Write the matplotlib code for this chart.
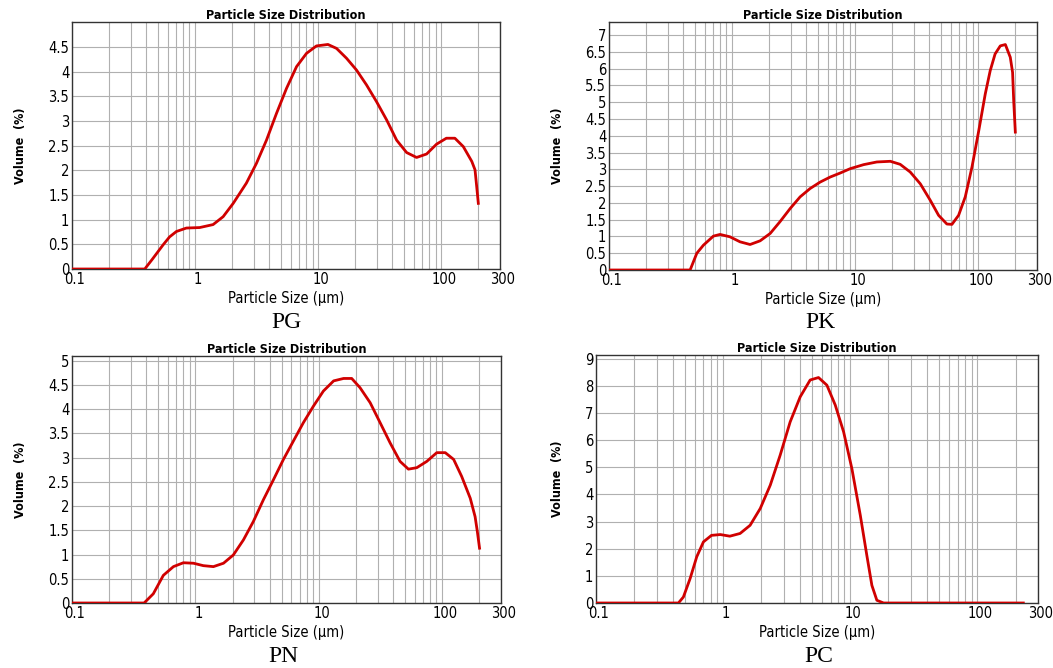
import matplotlib
matplotlib.use("Agg")
import matplotlib.pyplot as plt
import matplotlib.transforms as mtransforms
from matplotlib.ticker import FixedLocator, LogLocator, NullFormatter
import numpy as np

# particle size (um) and volume (%)
pg_size = [0.1, 0.39, 0.45, 0.55, 0.62, 0.705, 0.85, 1.09, 1.4, 1.69, 2.04, 2.61, 3.15,
           3.8, 4.58, 5.53, 6.67, 8.04, 9.68, 12.0, 14.1, 17.0, 20.5, 24.7, 29.8, 36.0,
           43.4, 52.3, 63.0, 76.0, 91.6, 110, 129, 151, 177, 188, 194, 200]
pg_vol = [0, 0, 0.2, 0.49, 0.65, 0.76, 0.83, 0.84, 0.9, 1.06, 1.33, 1.74, 2.14,
          2.61, 3.15, 3.66, 4.1, 4.37, 4.52, 4.55, 4.47, 4.27, 4.03, 3.73, 3.39, 3.02,
          2.61, 2.36, 2.26, 2.33, 2.53, 2.65, 2.65, 2.48, 2.18, 2.01, 1.67, 1.33]

pk_size = [0.1, 0.456, 0.517, 0.585, 0.705, 0.798, 0.96, 1.16, 1.4, 1.69, 2.04, 2.45,
           2.96, 3.57, 4.31, 5.19, 6.26, 7.55, 9.11, 11.7, 15.0, 19.3, 23.2, 28.0, 33.8,
           40.7, 47.6, 55.6, 61.1, 69.2, 78.4, 88.9, 101, 114, 125, 137, 151, 166, 182,
           190, 194, 200]
pk_vol = [0, 0, 0.5, 0.74, 1.01, 1.06, 0.99, 0.84, 0.76, 0.87, 1.09, 1.44,
          1.83, 2.18, 2.43, 2.62, 2.77, 2.89, 3.02, 3.14, 3.22, 3.24, 3.15, 2.92, 2.57,
          2.08, 1.63, 1.37, 1.36, 1.63, 2.18, 3.07, 4.16, 5.25, 5.94, 6.44, 6.68, 6.72, 6.34,
          5.89, 5.05, 4.11]

pn_size = [0.1, 0.384, 0.456, 0.55, 0.664, 0.8, 0.965, 1.16, 1.4, 1.69, 2.03, 2.45,
           2.95, 3.56, 4.29, 5.17, 6.23, 7.51, 9.06, 10.9, 13.2, 15.9, 18.5, 21.6, 26.1,
           31.4, 37.9, 45.6, 53.3, 62.3, 75.1, 90.5, 106, 124, 144, 169, 185, 193, 201]
pn_vol = [0, 0, 0.19, 0.57, 0.75, 0.83, 0.82, 0.77, 0.75, 0.82, 0.99, 1.3,
          1.68, 2.13, 2.54, 2.96, 3.34, 3.72, 4.06, 4.37, 4.58, 4.63, 4.63, 4.44, 4.13,
          3.72, 3.3, 2.92, 2.76, 2.79, 2.92, 3.1, 3.1, 2.96, 2.61, 2.16, 1.78, 1.47, 1.13]

pc_size = [0.1, 0.445, 0.487, 0.55, 0.62, 0.7, 0.81, 0.95, 1.13, 1.36, 1.63, 1.96,
           2.35, 2.81, 3.37, 4.04, 4.84, 5.63, 6.55, 7.62, 8.87, 10.3, 12.0, 13.5, 14.8,
           16.2, 18.3, 230]
pc_vol = [0, 0, 0.22, 0.9, 1.7, 2.25, 2.49, 2.52, 2.46, 2.56, 2.86, 3.48,
          4.34, 5.44, 6.67, 7.59, 8.21, 8.3, 8.02, 7.29, 6.3, 4.95, 3.23, 1.76, 0.65,
          0.1, 0, 0]

names = ["PG", "PK", "PN", "PC"]
sizes = [pg_size, pk_size, pn_size, pc_size]
vols = [pg_vol, pk_vol, pn_vol, pc_vol]
y_top_tick = [4.5, 7, 5, 9]
y_step = [0.5, 0.5, 0.5, 1]
x_ticks = [0.1, 1, 10, 100, 300]

W, H = 1053, 668
# axes boxes in pixels: left, right, top, bottom
boxes = [(72, 500, 22, 269), (609, 1037, 22, 270),
         (72, 501, 356, 603), (596, 1038, 355, 603)]
name_pos = [(286, 323), (820, 323), (283, 656), (819, 656)]

serif = ["Liberation Serif", "DejaVu Serif"]
plt.rcParams["font.family"] = ["DejaVu Sans"]
plt.rcParams["font.stretch"] = "condensed"

fig = plt.figure(figsize=(W / 100, H / 100), dpi=100)
# the instrument software draws x tick labels a little right of their grid lines
shift = mtransforms.ScaledTranslation(3 / 100, 0, fig.dpi_scale_trans)

for i in range(4):
    l, r, t, b = boxes[i]
    ax = fig.add_axes([l / W, 1 - b / H, (r - l) / W, (b - t) / H])
    ax.plot(sizes[i], vols[i], color="#d00000", lw=2.0, solid_joinstyle="round", zorder=3)
    ax.set_xscale("log")
    ax.set_xlim(0.1, 300)
    ax.set_ylim(0, max(vols[i]) * 1.1)

    ax.xaxis.set_major_locator(FixedLocator(x_ticks))
    ax.set_xticklabels(["%g" % v for v in x_ticks])
    ax.xaxis.set_minor_locator(LogLocator(subs=np.arange(2, 10), numticks=20))
    ax.xaxis.set_minor_formatter(NullFormatter())
    yt = np.arange(0, y_top_tick[i] + 1e-9, y_step[i])
    ax.set_yticks(yt)
    ax.set_yticklabels(["%g" % v for v in yt])

    ax.grid(True, which="both", axis="x", color="#b0b0b0", lw=0.8)
    ax.grid(True, which="major", axis="y", color="#b0b0b0", lw=0.8)
    ax.tick_params(which="both", length=0, labelsize=10.5, pad=2)
    for lab in ax.get_xticklabels():
        lab.set_transform(lab.get_transform() + shift)
    for s in ax.spines.values():
        s.set_color("#333333")
        s.set_linewidth(1.0)

    ax.set_title("Particle Size Distribution", fontsize=9, fontweight="bold", pad=2)
    ax.set_xlabel("Particle Size (\u03bcm)", fontsize=10.5, labelpad=3)
    ax.set_ylabel("Volume  (%)", fontsize=9, fontweight="bold", labelpad=15)

    fig.text(name_pos[i][0] / W, 1 - name_pos[i][1] / H, names[i], fontsize=17,
             family=serif, fontstretch="normal", ha="center", va="center")

fig.savefig("out.png", dpi=100)
